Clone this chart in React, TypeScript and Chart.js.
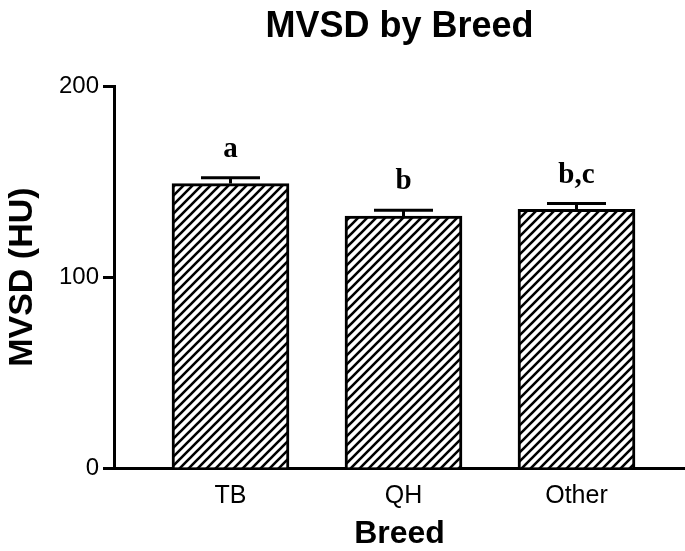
import { useEffect, useRef } from 'react';
import { Chart, registerables } from 'chart.js';

Chart.register(...registerables);

// Breed groups and their mean MVSD (HU) with standard error
const categories = ['TB', 'QH', 'Other'];
const meanValues = [149, 132, 135.5];
const semValues = [3, 3, 3];
const sigLetters = ['a', 'b', 'b,c'];
const yTicks = [0, 100, 200];

const SANS = '"Liberation Sans", Arial, Helvetica, sans-serif';
const SERIF = '"Liberation Serif", "Times New Roman", serif';

// Linear x range so the bars sit inset from the y axis line
const X_MIN = -0.6734;
const X_MAX = 2.6272;

function makeHatch(): CanvasPattern | string {
  const s = 9;
  const tile = document.createElement('canvas');
  tile.width = s;
  tile.height = s;
  const c = tile.getContext('2d');
  if (!c) return '#fff';
  c.fillStyle = '#fff';
  c.fillRect(0, 0, s, s);
  c.strokeStyle = '#000';
  c.lineWidth = 2.6;
  c.beginPath();
  c.moveTo(-2, s + 2);
  c.lineTo(s + 2, -2);
  c.moveTo(-2, 2);
  c.lineTo(2, -2);
  c.moveTo(s - 2, s + 2);
  c.lineTo(s + 2, s - 2);
  c.stroke();
  const p = c.createPattern(tile, 'repeat');
  return p ?? '#fff';
}

const errorBarsPlugin = {
  id: 'errorBarsAndLetters',
  afterDatasetsDraw(chart: any) {
    const { ctx } = chart;
    const xs = chart.scales.x;
    const ys = chart.scales.y;
    ctx.save();
    ctx.strokeStyle = '#000';
    ctx.lineWidth = 3;
    categories.forEach((_, i) => {
      const cx = xs.getPixelForValue(i);
      const yTop = ys.getPixelForValue(meanValues[i]);
      const yErr = ys.getPixelForValue(meanValues[i] + semValues[i]);
      const half = 29.5;
      ctx.beginPath();
      ctx.moveTo(cx, yTop);
      ctx.lineTo(cx, yErr);
      ctx.moveTo(cx - half, yErr);
      ctx.lineTo(cx + half, yErr);
      ctx.stroke();
      ctx.fillStyle = '#000';
      ctx.font = `bold 29px ${SERIF}`;
      ctx.textAlign = 'center';
      ctx.textBaseline = 'alphabetic';
      ctx.fillText(sigLetters[i], cx, yErr - 21);
    });
    ctx.restore();
  },
};

export default function App() {
  const ref = useRef<HTMLCanvasElement>(null);

  useEffect(() => {
    const canvas = ref.current;
    if (!canvas) return;
    const hatch = makeHatch();
    const chart = new Chart(canvas, {
      type: 'bar',
      data: {
        datasets: [
          {
            label: 'MVSD',
            data: meanValues.map((v, i) => ({ x: i, y: v })),
            backgroundColor: hatch as any,
            borderColor: '#000',
            borderWidth: 3,
            barThickness: 117,
          },
        ],
      },
      options: {
        responsive: false,
        maintainAspectRatio: false,
        animation: false,
        devicePixelRatio: 1,
        layout: { padding: 0 },
        plugins: {
          legend: { display: false },
          tooltip: { enabled: false },
          title: {
            display: true,
            text: 'MVSD by Breed',
            color: '#000',
            fullSize: false,
            font: { family: SANS, size: 36, weight: 'bold' },
            padding: { top: 5, bottom: 38 },
          },
        },
        scales: {
          x: {
            type: 'linear',
            min: X_MIN,
            max: X_MAX,
            offset: false,
            afterBuildTicks: (s: any) => {
              s.ticks = categories.map((_, i) => ({ value: i }));
            },
            afterFit: (s: any) => {
              s.height = 83;
            },
            ticks: {
              autoSkip: false,
              maxRotation: 0,
              padding: 13,
              color: '#000',
              font: { family: SANS, size: 25 },
              callback: (v: any) => categories[v] ?? '',
            },
            grid: { drawOnChartArea: false, drawTicks: false },
            border: { color: '#000', width: 3 },
            title: {
              display: true,
              text: 'Breed',
              color: '#000',
              font: { family: SANS, size: 32, weight: 'bold' },
              padding: { top: 0, bottom: -2 },
            },
          },
          y: {
            min: yTicks[0],
            max: yTicks[yTicks.length - 1],
            afterBuildTicks: (s: any) => {
              s.ticks = yTicks.map((v) => ({ value: v }));
            },
            afterFit: (s: any) => {
              s.width = 114;
            },
            ticks: {
              padding: 4,
              color: '#000',
              font: { family: SANS, size: 24 },
            },
            grid: {
              drawOnChartArea: false,
              drawTicks: true,
              tickLength: 11,
              tickWidth: 3,
              tickColor: '#000',
            },
            border: { color: '#000', width: 3 },
            title: {
              display: true,
              text: 'MVSD (HU)',
              color: '#000',
              font: { family: SANS, size: 34, weight: 'bold' },
              padding: { top: 2, bottom: 0 },
            },
          },
        },
      },
      plugins: [errorBarsPlugin],
    } as any);
    return () => chart.destroy();
  }, []);

  return (
    <div style={{ position: 'fixed', left: 0, top: 0, width: 685, height: 551, background: '#fff' }}>
      <canvas ref={ref} width={685} height={551} style={{ display: 'block' }} />
    </div>
  );
}
